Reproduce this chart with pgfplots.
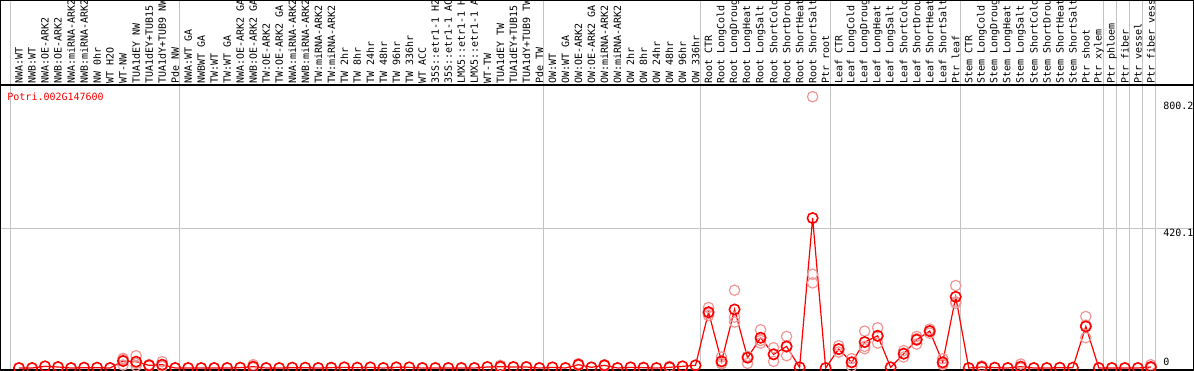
\documentclass[border=0pt]{standalone}
\usepackage{pgfplots}
\pgfplotsset{compat=1.18}
\usepackage{fontspec}
\setmonofont{DejaVu Sans Mono}
\definecolor{rep}{RGB}{240,150,150}
\definecolor{gridc}{RGB}{195,195,195}
\begin{document}
\begin{tikzpicture}
\begin{axis}[
  scale only axis, width=597pt, height=185pt,
  xmin=-1.4604, xmax=90.315, ymin=-6.0, ymax=1106.8,
  axis line style={black, line width=0.8pt},
  xtick={0,...,87},
  xticklabels={NWA:WT,NWB:WT,NWA:OE-ARK2,NWB:OE-ARK2,NWA:miRNA-ARK2,NWB:miRNA-ARK2,NW 0hr,WT H2O,WT-NW,TUA1dEY NW,TUA1dEY+TUB15,TUA1dY+TUB9 NW,Pde NW,
    NWA:WT GA,NWBWT GA,TW:WT,TW:WT GA,NWA:OE-ARK2 GA,NWB:OE-ARK2 GA,TW:OE-ARK2,TW:OE-ARK2 GA,NWA:miRNA-ARK2,NWB:miRNA-ARK2,TW:miRNA-ARK2,TW:miRNA-ARK2,TW 2hr,TW 8hr,TW 24hr,TW 48hr,TW 96hr,TW 336hr,WT ACC,35S::etr1-1 H2,35S::etr1-1 AC,LMX5::etr1-1 H,LMX5::etr1-1 A,WT-TW,TUA1dEY TW,TUA1dEY+TUB15,TUA1dY+TUB9 TW,Pde TW,
    OW:WT,OW:WT GA,OW:OE-ARK2,OW:OE-ARK2 GA,OW:miRNA-ARK2,OW:miRNA-ARK2,OW 2hr,OW 8hr,OW 24hr,OW 48hr,OW 96hr,OW 336hr,
    Root CTR,Root LongCold,Root LongDroug,Root LongHeat,Root LongSalt,Root ShortCold,Root ShortDrou,Root ShortHeat,Root ShortSalt,Ptr root,
    Leaf CTR,Leaf LongCold,Leaf LongDroug,Leaf LongHeat,Leaf LongSalt,Leaf ShortCold,Leaf ShortDrou,Leaf ShortHeat,Leaf ShortSalt,Ptr leaf,
    Stem CTR,Stem LongCold,Stem LongDroug,Stem LongHeat,Stem LongSalt,Stem ShortCold,Stem ShortDrou,Stem ShortHeat,Stem ShortSalt,Ptr shoot,Ptr xylem,
    Ptr phloem,Ptr fiber,Ptr vessel,Ptr fiber vess},
  xticklabel style={rotate=90, anchor=west, inner sep=0pt, font=\ttfamily\fontsize{5}{6}\selectfont},
  xticklabel shift=-143pt,
  major tick length=0pt, minor tick length=0pt,
  minor xtick={-0.653,12.347,40.347,52.347,62.347,72.347,83.347,84.347,85.347,86.347,87.347},
  xminorgrids=true,
  minor grid style={gridc, line width=0.5pt},
  ytick={420.1}, yticklabels={}, ymajorgrids=true,
  major grid style={gridc, line width=0.5pt},
  extra y ticks={851.1}, extra y tick labels={},
  extra y tick style={ymajorgrids=true, major grid style={black, line width=0.8pt}},
  clip=false,
]
% replicate values
\addplot[only marks, mark=o, mark size=2.6pt, color=rep, mark options={line width=0.6pt}] coordinates {
(8,29)(8,9)(8,25)(9,37)(9,6)(9,14)(10,10)(10,6)(10,8)(11,19)(11,6)(11,5)
(18,10)(18,1)(37,8)(37,2)(43,13)(43,8)(45,10)(45,6)(50,5)(50,1)
(53,182)(53,164)(53,158)(54,33)(54,13)(54,14)(55,234)(55,153)(55,138)
(56,34)(56,14)(56,35)(57,115)(57,75)(57,83)(58,61)(58,20)(58,42)
(59,95)(59,37)(59,63)(61,816)(61,282)(61,256)
(63,67)(63,48)(63,56)(64,28)(64,5)(64,18)(65,111)(65,58)(65,65)
(66,121)(66,75)(66,95)(68,52)(68,33)(68,44)(69,95)(69,72)(69,88)
(70,117)(70,105)(70,111)(71,28)(71,10)(71,13)(72,248)(72,199)(72,195)
(74,6)(74,1)(77,12)(77,0)(82,155)(82,91)(82,129)(87,10)(87,0)
};
% mean values
\addplot[color=red, line width=0.6pt, mark=o, mark size=2.6pt, mark options={line width=0.8pt}] coordinates {
(0,0)(1,0)(2,5)(3,3)(4,0)(5,1)(6,1)(7,0)(8,21)(9,19)(10,8)(11,10)(12,0)
(13,0)(14,0)(15,0)(16,0)(17,1)(18,4)(19,0)(20,0)(21,1)(22,1)(23,0)(24,1)(25,2)(26,1)(27,2)
(28,0)(29,2)(30,2)(31,0)(32,0)(33,0)(34,0)(35,0)(36,3)(37,4)(38,3)(39,3)(40,0)
(41,2)(42,0)(43,10)(44,2)(45,8)(46,0)(47,2)(48,1)(49,0)(50,2)(51,5)(52,8)
(53,168)(54,20)(55,176)(56,31)(57,91)(58,41)(59,65)(60,2)(61,451)(62,0)
(63,57)(64,17)(65,78)(66,97)(67,2)(68,43)(69,85)(70,111)(71,17)(72,214)
(73,0)(74,3)(75,1)(76,0)(77,4)(78,0)(79,0)(80,1)(81,1)(82,125)(83,0)
(84,0)(85,0)(86,0)(87,3)
};
\node[anchor=west, inner sep=0pt, text=red, font=\ttfamily\fontsize{5}{6}\selectfont] at (axis cs:-0.92,815) {Potri.002G147600};
\node[anchor=north west, inner sep=0pt, font=\ttfamily\fontsize{5}{6}\selectfont] at (axis cs:87.93,800.2) {800.2};
\node[anchor=north west, inner sep=0pt, font=\ttfamily\fontsize{5}{6}\selectfont] at (axis cs:87.93,420.1) {420.1};
\node[anchor=south west, inner sep=0pt, font=\ttfamily\fontsize{5}{6}\selectfont] at (axis cs:87.93,6) {0};
\end{axis}
\pgfresetboundingbox
\useasboundingbox (current axis.south west) rectangle (current axis.north east);
\end{tikzpicture}
\end{document}
